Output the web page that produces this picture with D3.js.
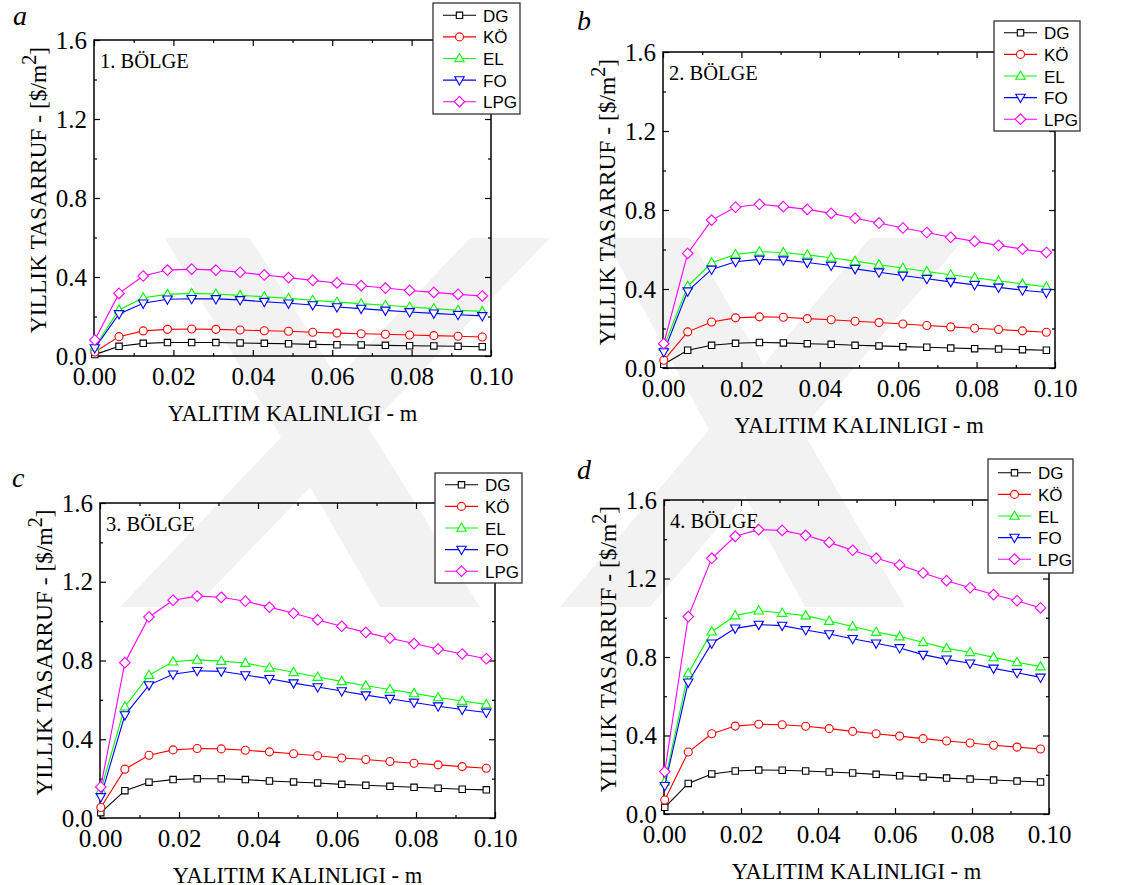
<!DOCTYPE html>
<html>
<head>
<meta charset="utf-8">
<script src="https://cdn.jsdelivr.net/npm/d3@7"></script>
<style>
  body { margin: 0; background: #fff; }
  svg { display: block; }
  .axis path.domain { display: none; }
  .axis line { stroke: #000; stroke-width: 1.2; }
</style>
</head>
<body>
<div class="graph"></div>
<script>
/*---------- DATA ----------*/

//insulation thickness (m), same for every panel
const THICKNESS = [0.0002, 0.0063, 0.0124, 0.0185, 0.0246, 0.0307, 0.0368, 0.0429, 0.049, 0.0551,
                   0.0612, 0.0673, 0.0734, 0.0795, 0.0856, 0.0917, 0.0978];

const SERIES_NAMES = ["DG", "KÖ", "EL", "FO", "LPG"];
const REGION_TITLES = ["1. BÖLGE", "2. BÖLGE", "3. BÖLGE", "4. BÖLGE"];
const PANEL_LETTERS = ["a", "b", "c", "d"];

const X_TICKS = [0, 0.02, 0.04, 0.06, 0.08, 0.10];
const X_MINOR = [0.01, 0.03, 0.05, 0.07, 0.09];
const Y_TICKS = [0, 0.4, 0.8, 1.2, 1.6];
const Y_MINOR = [0.2, 0.6, 1.0, 1.4];

//region 1
const dg1  = [0.007, 0.049, 0.064, 0.068, 0.068, 0.068, 0.066, 0.064, 0.062, 0.059, 0.057, 0.056, 0.054, 0.052, 0.051, 0.049, 0.047];
const ko1  = [0.02, 0.098, 0.127, 0.135, 0.137, 0.135, 0.132, 0.128, 0.125, 0.12, 0.116, 0.113, 0.11, 0.106, 0.103, 0.1, 0.096];
const el1  = [0.047, 0.233, 0.295, 0.312, 0.317, 0.314, 0.307, 0.3, 0.292, 0.282, 0.273, 0.265, 0.257, 0.248, 0.24, 0.232, 0.226];
const fo1  = [0.04, 0.213, 0.267, 0.287, 0.29, 0.289, 0.284, 0.275, 0.267, 0.258, 0.248, 0.24, 0.231, 0.223, 0.216, 0.209, 0.203];
const lpg1 = [0.081, 0.317, 0.405, 0.435, 0.44, 0.435, 0.424, 0.41, 0.397, 0.383, 0.37, 0.356, 0.344, 0.332, 0.322, 0.312, 0.304];

//region 2
const dg2  = [0.019, 0.09, 0.115, 0.125, 0.129, 0.127, 0.123, 0.12, 0.115, 0.112, 0.108, 0.105, 0.101, 0.098, 0.096, 0.093, 0.09];
const ko2  = [0.039, 0.183, 0.233, 0.254, 0.259, 0.257, 0.25, 0.244, 0.237, 0.23, 0.223, 0.215, 0.208, 0.201, 0.195, 0.188, 0.181];
const el2  = [0.107, 0.414, 0.533, 0.575, 0.589, 0.585, 0.573, 0.558, 0.541, 0.523, 0.506, 0.489, 0.472, 0.457, 0.441, 0.426, 0.411];
const fo2  = [0.081, 0.389, 0.499, 0.538, 0.55, 0.546, 0.534, 0.519, 0.502, 0.485, 0.468, 0.452, 0.436, 0.421, 0.408, 0.394, 0.382];
const lpg2 = [0.123, 0.58, 0.749, 0.814, 0.829, 0.817, 0.803, 0.783, 0.758, 0.734, 0.709, 0.686, 0.662, 0.641, 0.621, 0.602, 0.585];

//region 3
const dg3  = [0.027, 0.139, 0.182, 0.195, 0.199, 0.199, 0.195, 0.188, 0.183, 0.178, 0.171, 0.166, 0.161, 0.156, 0.151, 0.146, 0.143];
const ko3  = [0.053, 0.248, 0.319, 0.346, 0.353, 0.351, 0.344, 0.336, 0.326, 0.316, 0.305, 0.297, 0.287, 0.278, 0.27, 0.261, 0.253];
const el3  = [0.141, 0.565, 0.726, 0.794, 0.803, 0.797, 0.787, 0.763, 0.74, 0.716, 0.694, 0.672, 0.653, 0.633, 0.612, 0.594, 0.577];
const fo3  = [0.107, 0.523, 0.675, 0.73, 0.748, 0.745, 0.726, 0.707, 0.685, 0.665, 0.645, 0.624, 0.606, 0.587, 0.568, 0.551, 0.536];
const lpg3 = [0.158, 0.789, 1.021, 1.106, 1.127, 1.121, 1.101, 1.071, 1.04, 1.006, 0.974, 0.943, 0.913, 0.886, 0.858, 0.833, 0.809];

//region 4
const dg4  = [0.034, 0.156, 0.204, 0.219, 0.224, 0.223, 0.219, 0.214, 0.209, 0.202, 0.195, 0.189, 0.183, 0.178, 0.173, 0.168, 0.163];
const ko4  = [0.071, 0.316, 0.409, 0.448, 0.457, 0.455, 0.447, 0.435, 0.421, 0.409, 0.397, 0.384, 0.372, 0.362, 0.35, 0.341, 0.331];
const el4  = [0.165, 0.717, 0.929, 1.011, 1.036, 1.024, 1.011, 0.983, 0.955, 0.927, 0.904, 0.875, 0.844, 0.824, 0.798, 0.773, 0.751];
const fo4  = [0.144, 0.671, 0.87, 0.946, 0.965, 0.96, 0.938, 0.917, 0.893, 0.87, 0.846, 0.812, 0.788, 0.768, 0.742, 0.72, 0.696];
const lpg4 = [0.216, 1.006, 1.303, 1.415, 1.449, 1.445, 1.42, 1.384, 1.344, 1.303, 1.269, 1.228, 1.189, 1.153, 1.118, 1.087, 1.05];

const REGION_DATA = [
    [dg1, ko1, el1, fo1, lpg1],
    [dg2, ko2, el2, fo2, lpg2],
    [dg3, ko3, el3, fo3, lpg3],
    [dg4, ko4, el4, fo4, lpg4]
];

/*---------- LAYOUT ----------*/

const SIZE = {X: 1131, Y: 885};
const COLORS = ["#000000", "#ff0000", "#00ff00", "#0000ff", "#ff00ff"];
const SERIF = '"Liberation Serif", "Times New Roman", serif';
const SANS = '"Liberation Sans", Arial, sans-serif';

//plot frame, legend box and letter position of each panel
const LAYOUT = [
    {plot: {l: 94,  t: 40,  r: 491,  b: 356}, legend: {x: 433, y: 3,   w: 87, h: 111}, letter: [13, 25]},
    {plot: {l: 663, t: 52,  r: 1055, b: 368}, legend: {x: 994, y: 21,  w: 86, h: 110}, letter: [577, 30]},
    {plot: {l: 100, t: 503, r: 495,  b: 818}, legend: {x: 435, y: 473, w: 87, h: 110}, letter: [12, 487]},
    {plot: {l: 664, t: 500, r: 1049, b: 814}, legend: {x: 988, y: 459, w: 85, h: 114}, letter: [577, 479]}
];

//marker shapes (open symbols with white fill)
const MARKERS = [
    "M-3.2,-3.2h6.4v6.4h-6.4z",
    "M4,0A4,4 0 1,1 -4,0A4,4 0 1,1 4,0z",
    "M0,-5L4.7,3.3L-4.7,3.3z",
    "M0,5L4.7,-3.3L-4.7,-3.3z",
    "M0,-5.3L5.3,0L0,5.3L-5.3,0z"
];

//add svg
const svg = d3.select(".graph").append("svg")
    .attr("width", SIZE.X)
    .attr("height", SIZE.Y);

svg.append("rect").attr("width", SIZE.X).attr("height", SIZE.Y).attr("fill", "#fff");

//faint background watermark bands
const WATERMARK = [
    [[165, 238], [250, 238], [480, 607], [380, 607]],
    [[470, 238], [550, 238], [195, 607], [120, 607]],
    [[605, 238], [690, 238], [905, 607], [805, 607]],
    [[870, 238], [965, 238], [650, 607], [560, 607]]
];
svg.append("g")
    .selectAll("polygon")
    .data(WATERMARK)
    .enter()
    .append("polygon")
        .attr("points", d => d.map(p => p.join(",")).join(" "))
        .attr("fill", "#f2f2f2");

//draw every panel
REGION_DATA.forEach((series, i) => drawPanel(i, series));

//function to style tick labels of an axis group
function tickFont(sel) {
    sel.attr("font-family", null).attr("font-size", null);
    sel.selectAll("text")
        .style("font-family", SERIF)
        .style("font-size", "25px")
        .style("fill", "#000");
}

//function to draw one panel
function drawPanel(i, series) {
    const lay = LAYOUT[i];
    const W = lay.plot.r - lay.plot.l;
    const H = lay.plot.b - lay.plot.t;

    const g = svg.append("g")
        .attr("transform", `translate(${lay.plot.l}, ${lay.plot.t})`);

    //scales
    const x = d3.scaleLinear().domain([0, 0.1]).range([0, W]);
    const y = d3.scaleLinear().domain([0, 1.6]).range([H, 0]);

    //axes, ticks point inward on all four sides
    g.append("g").attr("class", "axis")
        .attr("transform", `translate(0, ${H})`)
        .call(d3.axisBottom(x).tickValues(X_TICKS).tickSize(-6).tickSizeOuter(0)
            .tickPadding(11).tickFormat(d3.format(".2f")))
        .call(tickFont);
    g.append("g").attr("class", "axis")
        .attr("transform", `translate(0, ${H})`)
        .call(d3.axisBottom(x).tickValues(X_MINOR).tickSize(-3).tickSizeOuter(0).tickFormat(""));
    g.append("g").attr("class", "axis")
        .call(d3.axisTop(x).tickValues(X_TICKS).tickSize(-6).tickSizeOuter(0).tickFormat(""));
    g.append("g").attr("class", "axis")
        .call(d3.axisTop(x).tickValues(X_MINOR).tickSize(-3).tickSizeOuter(0).tickFormat(""));

    g.append("g").attr("class", "axis")
        .call(d3.axisLeft(y).tickValues(Y_TICKS).tickSize(-6).tickSizeOuter(0)
            .tickPadding(7).tickFormat(d3.format(".1f")))
        .call(tickFont);
    g.append("g").attr("class", "axis")
        .call(d3.axisLeft(y).tickValues(Y_MINOR).tickSize(-3).tickSizeOuter(0).tickFormat(""));
    g.append("g").attr("class", "axis")
        .attr("transform", `translate(${W}, 0)`)
        .call(d3.axisRight(y).tickValues(Y_TICKS).tickSize(-6).tickSizeOuter(0).tickFormat(""));
    g.append("g").attr("class", "axis")
        .attr("transform", `translate(${W}, 0)`)
        .call(d3.axisRight(y).tickValues(Y_MINOR).tickSize(-3).tickSizeOuter(0).tickFormat(""));

    //frame
    g.append("rect")
        .attr("width", W).attr("height", H)
        .attr("fill", "none").attr("stroke", "#000").attr("stroke-width", 1.5);

    //axis titles
    g.append("text")
        .attr("x", W / 2).attr("y", H + 65)
        .attr("text-anchor", "middle")
        .style("font-family", SERIF).style("font-size", "22.5px")
        .text("YALITIM KALINLIGI - m");

    const yt = g.append("text")
        .attr("transform", `translate(${-48}, ${H / 2 - 8}) rotate(-90)`)
        .attr("text-anchor", "middle")
        .style("font-family", SERIF).style("font-size", "23.5px");
    yt.append("tspan").text("YILLIK TASARRUF - [$/m");
    yt.append("tspan").attr("dy", -10).style("font-size", "20px").text("2");
    yt.append("tspan").attr("dy", 10).text("]");

    //region title
    g.append("text")
        .attr("x", 6).attr("y", 28)
        .style("font-family", SERIF).style("font-size", "20.5px")
        .text(REGION_TITLES[i]);

    //lines and markers
    const line = d3.line()
        .x((d, j) => x(THICKNESS[j]))
        .y(d => y(d));

    series.forEach((vals, s) => {
        g.append("path")
            .datum(vals)
            .attr("d", line)
            .attr("fill", "none")
            .attr("stroke", COLORS[s])
            .attr("stroke-width", 1.1);

        g.append("g")
            .selectAll("path")
            .data(vals)
            .enter()
            .append("path")
                .attr("d", MARKERS[s])
                .attr("transform", (d, j) => `translate(${x(THICKNESS[j])}, ${y(d)})`)
                .attr("fill", "#fff")
                .attr("stroke", COLORS[s])
                .attr("stroke-width", 1.1);
    });

    //legend box
    const lg = svg.append("g")
        .attr("transform", `translate(${lay.legend.x}, ${lay.legend.y})`);
    lg.append("rect")
        .attr("width", lay.legend.w).attr("height", lay.legend.h)
        .attr("fill", "#fff").attr("stroke", "#333").attr("stroke-width", 1.3);

    const rowStep = 21.6;
    const row0 = (lay.legend.h - 4 * rowStep) / 2;
    SERIES_NAMES.forEach((name, s) => {
        const ry = row0 + s * rowStep;
        lg.append("line")
            .attr("x1", 10).attr("x2", 43).attr("y1", ry).attr("y2", ry)
            .attr("stroke", COLORS[s]).attr("stroke-width", 1.1);
        lg.append("path")
            .attr("d", MARKERS[s])
            .attr("transform", `translate(26.5, ${ry})`)
            .attr("fill", "#fff").attr("stroke", COLORS[s]).attr("stroke-width", 1.1);
        lg.append("text")
            .attr("x", 50).attr("y", ry + 6.5)
            .style("font-family", SANS).style("font-size", "17px")
            .text(name);
    });

    //panel letter
    svg.append("text")
        .attr("x", lay.letter[0]).attr("y", lay.letter[1])
        .style("font-family", SERIF).style("font-size", "28px").style("font-style", "italic")
        .text(PANEL_LETTERS[i]);
}
</script>
</body>
</html>
